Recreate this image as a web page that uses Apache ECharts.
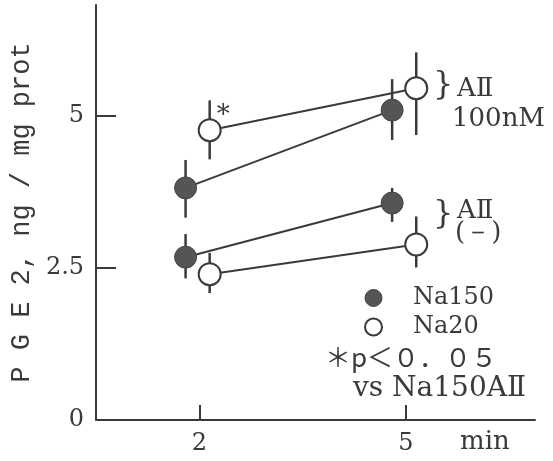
<!DOCTYPE html>
<html><head><meta charset="utf-8">
<script src="https://cdn.jsdelivr.net/npm/echarts@6/dist/echarts.min.js"></script>
<style>html,body{margin:0;padding:0;background:#fff}#c{width:553px;height:461px}</style>
</head><body><div id="c"></div>
<script>
// ---- data ----
const timeTicks = [2, 5];
const yTicks = [0, 2.5, 5];
const xNa150 = [1.8, 4.8];
const xNa20 = [2.15, 5.15];
const na150AII = [3.82, 5.10];
const na150AIIUp = [0.46, 0.51];
const na150AIIDown = [0.49, 0.49];
const na20AII = [4.77, 5.46];
const na20AIIUp = [0.49, 0.59];
const na20AIIDown = [0.48, 0.77];
const na20AIISig = ['*', ''];
const na150Ctrl = [2.68, 3.57];
const na150CtrlUp = [0.38, 0.25];
const na150CtrlDown = [0.35, 0.31];
const na20Ctrl = [2.40, 2.89];
const na20CtrlUp = [0.35, 0.46];
const na20CtrlDown = [0.31, 0.38];

const INK = '#3a3a3a';
const SERIF = 'DejaVu Serif';

function pts(xs, ys, sig) {
  return xs.map((x, i) => {
    const item = { value: [x, ys[i]] };
    if (sig && sig[i]) {
      item.label = { show: true, formatter: sig[i], position: [19, -15],
        fontSize: 26, fontFamily: SERIF, color: INK };
    }
    return item;
  });
}
function errs(xs, ys, up, down) {
  return xs.map((x, i) => [x, ys[i] - down[i], ys[i] + up[i]]);
}
const errData = [].concat(
  errs(xNa150, na150AII, na150AIIUp, na150AIIDown),
  errs(xNa20, na20AII, na20AIIUp, na20AIIDown),
  errs(xNa150, na150Ctrl, na150CtrlUp, na150CtrlDown),
  errs(xNa20, na20Ctrl, na20CtrlUp, na20CtrlDown)
);

const filled = { color: '#555', borderColor: '#444', borderWidth: 1 };
const open = { color: '#fff', borderColor: INK, borderWidth: 2 };
const lineSt = { color: INK, width: 2 };

function lineSeries(name, data, itemStyle) {
  return {
    name, type: 'line', data, symbol: 'circle', symbolSize: 22,
    itemStyle, lineStyle: lineSt, z: 3, animation: false,
    emphasis: { disabled: true }
  };
}

const chart = echarts.init(document.getElementById('c'), null, { renderer: 'canvas' });
chart.setOption({
  animation: false,
  backgroundColor: '#fff',
  grid: { left: 93, top: 5, right: 18, bottom: 41 },
  xAxis: {
    type: 'value', min: 0.5, max: 6.875,
    axisLine: { show: true, lineStyle: { color: INK, width: 2 } },
    axisTick: { show: true, inside: true, length: 15, customValues: timeTicks,
      lineStyle: { color: INK, width: 2 } },
    axisLabel: { customValues: timeTicks, fontSize: 24, fontFamily: SERIF,
      color: INK, margin: 12 },
    splitLine: { show: false }
  },
  yAxis: {
    type: 'value', min: 0, max: 6.83,
    name: 'P G E 2, ng / mg prot', nameLocation: 'middle', nameRotate: 90,
    nameGap: 52,
    nameTextStyle: { fontSize: 27, fontFamily: 'Liberation Mono', color: INK },
    axisLine: { show: true, lineStyle: { color: INK, width: 2 } },
    axisTick: { show: true, inside: true, length: 20, customValues: yTicks,
      lineStyle: { color: INK, width: 2 } },
    axisLabel: { customValues: yTicks, fontSize: 24, fontFamily: SERIF,
      color: INK, margin: 12, formatter: v => String(v) },
    splitLine: { show: false }
  },
  legend: {
    data: [
      { name: 'Na150', icon: 'circle', itemStyle: filled },
      { name: 'Na20', icon: 'circle', itemStyle: open }
    ],
    orient: 'vertical', left: 364, top: 286, padding: 0,
    itemWidth: 17, itemHeight: 17, itemGap: 5,
    selectedMode: false,
    textStyle: { fontSize: 24, fontFamily: SERIF, color: INK, lineHeight: 24,
      padding: [0, 0, 0, 26] }
  },
  series: [
    {
      type: 'custom', name: 'err', z: 1, data: errData,
      renderItem: (params, api) => {
        const p1 = api.coord([api.value(0), api.value(1)]);
        const p2 = api.coord([api.value(0), api.value(2)]);
        return { type: 'line', shape: { x1: p1[0], y1: p1[1], x2: p2[0], y2: p2[1] },
          style: { stroke: INK, lineWidth: 2.5 } };
      }
    },
    lineSeries('Na150', pts(xNa150, na150AII), filled),
    lineSeries('Na150', pts(xNa150, na150Ctrl), filled),
    lineSeries('Na20', pts(xNa20, na20AII, na20AIISig), open),
    lineSeries('Na20', pts(xNa20, na20Ctrl), open)
  ],
  graphic: [
    { type: 'text', left: 433, top: 70, style: { text: '}', fontSize: 32, fontFamily: SERIF, fill: INK } },
    { type: 'text', left: 457, top: 76, style: { text: 'AⅡ', fontSize: 26, fontFamily: SERIF, fill: INK } },
    { type: 'text', left: 452, top: 106, style: { text: '100nM', fontSize: 26, fontFamily: SERIF, fill: INK } },
    { type: 'text', left: 433, top: 199, style: { text: '}', fontSize: 32, fontFamily: SERIF, fill: INK } },
    { type: 'text', left: 457, top: 198, style: { text: 'AⅡ', fontSize: 26, fontFamily: SERIF, fill: INK } },
    { type: 'text', left: 455, top: 220, style: { text: '(－)', fontSize: 26, fontFamily: SERIF, fill: INK } },
    { type: 'text', left: 325, top: 344, style: { text: '＊p＜０．０５', fontSize: 26, fontFamily: 'Noto Sans CJK JP', fill: INK } },
    { type: 'text', left: 353, top: 375, style: { text: 'vs Na150AⅡ', fontSize: 28, fontFamily: SERIF, fill: INK } },
    { type: 'text', left: 460, top: 429, style: { text: 'min', fontSize: 26, fontFamily: SERIF, fill: INK } }
  ]
});
</script>
</body></html>
